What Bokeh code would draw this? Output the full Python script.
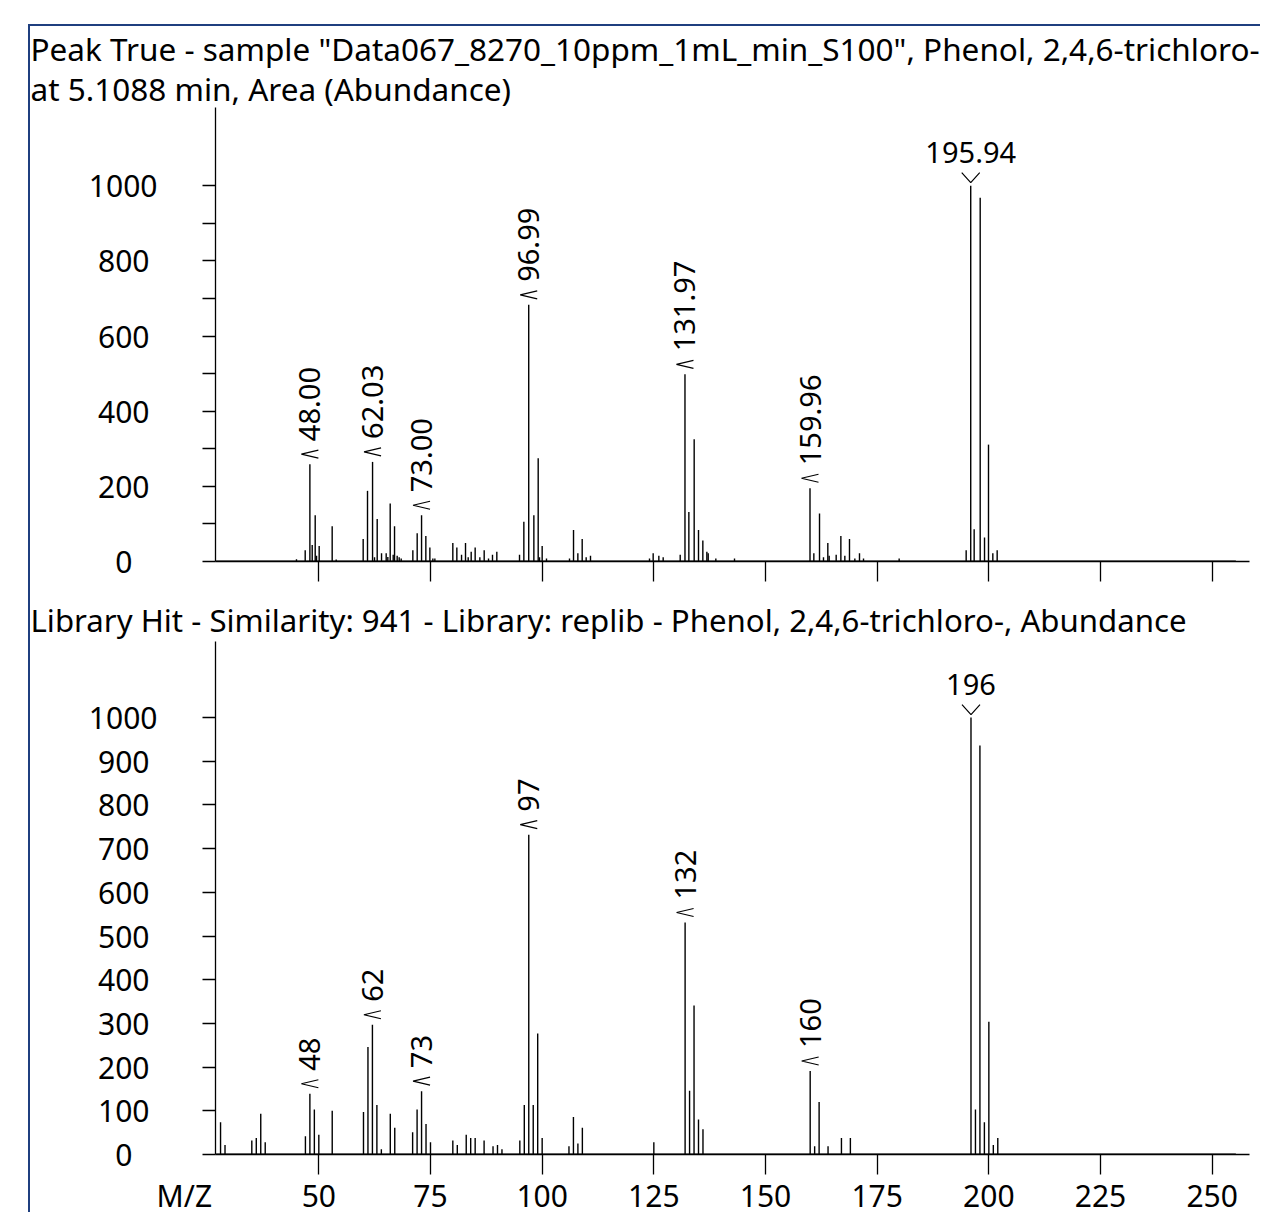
import math
from bokeh.plotting import figure
from bokeh.models import Range1d, FixedTicker
from bokeh.layouts import column
from bokeh.embed import file_html
from bokeh.resources import INLINE
from bokeh.core.properties import value

# ---------------- data ----------------
sample_mz = [45.0, 46.95, 48.00, 48.52, 49.19, 49.49, 50.08, 52.99, 53.89,
             59.93, 60.90, 62.03, 62.47, 63.07, 64.04, 65.08, 65.45, 65.98, 66.65,
             66.95, 67.54, 67.99, 68.44, 71.05, 72.02, 73.00, 73.96, 74.86, 75.53,
             75.98, 80.0, 80.9, 81.95, 82.84, 83.44, 84.11, 85.0, 86.05, 87.02,
             87.99, 88.88, 89.85, 94.93, 95.9, 96.99, 98.14, 99.11, 99.41, 100.0,
             100.97, 106.12, 107.02, 107.99, 108.96, 109.85, 110.82, 124.03, 124.85,
             126.12, 127.09, 130.9, 131.97, 132.84, 134.03, 135.0, 135.97, 136.87,
             137.17, 138.88, 143.06, 159.96, 160.82, 162.09, 162.98, 163.95, 164.25,
             165.82, 166.87, 167.76, 168.8, 170.0, 171.04, 171.94, 179.92, 194.92,
             195.94, 196.71, 198.06, 199.03, 199.92, 200.89, 201.86]
sample_abundance = [6, 30, 259, 44, 123, 15, 41, 94, 5,
                    60, 188, 265, 11, 113, 22, 22, 12, 154, 18,
                    94, 15, 11, 8, 30, 75, 123, 68, 37, 8,
                    8, 49, 37, 18, 49, 11, 26, 37, 11, 30,
                    8, 18, 26, 18, 106, 683, 123, 275, 11, 41,
                    8, 8, 84, 22, 60, 11, 15, 8, 22,
                    15, 11, 18, 498, 132, 325, 84, 56, 26,
                    22, 8, 8, 195, 22, 128, 11, 49, 15,
                    18, 68, 15, 60, 8, 22, 8, 8, 30,
                    1000, 86, 968, 64, 311, 22, 30]
sample_labels = ["48.00", "62.03", "73.00", "96.99", "131.97", "159.96"]
sample_base_label = "195.94"

library_mz = [28, 29, 35, 36, 37, 38, 47, 48, 49, 50, 53, 60, 61, 62, 63, 64, 66, 67,
              71, 72, 73, 74, 75, 80, 81, 83, 84, 85, 87, 89, 90, 91, 95, 96, 97, 98,
              99, 100, 106, 107, 108, 109, 125, 132, 133, 134, 135, 136, 160, 161, 162,
              164, 167, 169, 196, 197, 198, 199, 200, 201, 202]
library_abundance = [74, 22, 32, 38, 93, 28, 42, 139, 103, 45, 100, 97, 246, 297, 113, 12, 93, 61,
                     51, 103, 145, 70, 28, 32, 22, 45, 38, 38, 32, 19, 22, 12, 32, 113, 732, 113,
                     277, 38, 19, 86, 25, 61, 28, 531, 146, 341, 80, 58, 191, 19, 120,
                     19, 38, 38, 1000, 103, 936, 74, 304, 22, 38]
library_labels = ["48", "62", "73", "97", "132", "160"]
library_base_label = "196"

scan_range = [27.0, 255.3]
x_ticks = [50, 75, 100, 125, 150, 175, 200, 225, 250]
sample_y_ticks = [0, 200, 400, 600, 800, 1000]
sample_y_minor_ticks = [100, 300, 500, 700, 900]
library_y_ticks = [0, 100, 200, 300, 400, 500, 600, 700, 800, 900, 1000]
sample_title = ('Peak True - sample "Data067_8270_10ppm_1mL_min_S100", Phenol, 2,4,6-trichloro-\n'
                'at 5.1088 min, Area (Abundance)')
library_title = "Library Hit - Similarity: 941 - Library: replib - Phenol, 2,4,6-trichloro-, Abundance"
x_axis_name = "M/Z"

# ---------------- style ----------------
FONT = "Noto Sans"
X0, X1 = 26.87, 258.35
FW = 1034
INK = "#000000"
FIG_SP = "\u2007"   # digit-wide space
PUNC_SP = "\u2008"  # about half a digit
NBSP = "\u00a0"


def nearest(mz, ab, target):
    i = min(range(len(mz)), key=lambda k: abs(mz[k] - target))
    return ab[i]


def centred_labels(ticks):
    """Pad tick labels on the right so that right-anchored labels look centred."""
    widest = max(len(str(t)) for t in ticks)
    out = {}
    for t in ticks:
        s = str(t)
        half = widest - len(s)
        out[t] = s + FIG_SP * (half // 2) + PUNC_SP * (half % 2)
    return out


def panel(mz, ab, labels, base_label, y_max, frame_h, top, bottom,
          y_ticks, y_minor, show_x_labels):
    p = figure(frame_width=FW, frame_height=frame_h,
               x_range=Range1d(X0, X1), y_range=Range1d(0, y_max),
               output_backend="svg", toolbar_location=None,
               min_border_left=185, min_border_right=11,
               min_border_top=top, min_border_bottom=bottom,
               outline_line_color=None, border_fill_color="white",
               background_fill_color="white")
    p.grid.visible = False

    # spectrum stems
    p.segment(x0=mz, y0=[0] * len(mz), x1=mz, y1=ab, line_color=INK, line_width=1.4)
    p.segment(x0=[scan_range[0]], y0=[0], x1=[scan_range[1]], y1=[0],
              line_color=INK, line_width=2.2)

    ux = (X1 - X0) / FW
    uy = y_max / frame_h

    # peak labels and their markers
    lx = [float(t) for t in labels]
    ly = [nearest(mz, ab, v) for v in lx]
    xs, ys = [], []
    for x, y in zip(lx, ly):
        xs.append([x + 8.5 * ux, x - 8.5 * ux, x + 8.5 * ux])
        ys.append([y + 14 * uy, y + 10 * uy, y + 6 * uy])
    bx = float(base_label)
    by = nearest(mz, ab, bx)
    xs.append([bx - 9 * ux, bx, bx + 9 * ux])
    ys.append([by + 13 * uy, by + 3 * uy, by + 13 * uy])
    p.multi_line(xs=xs, ys=ys, line_color=INK, line_width=1.2)

    p.text(x=lx, y=ly, text=labels, angle=math.pi / 2, text_align="left",
           text_baseline="middle", y_offset=-23, text_color=INK,
           text_font=value(FONT), text_font_size="29px")
    p.text(x=[bx], y=[by], text=[base_label], text_align="center",
           text_baseline="alphabetic", y_offset=-33, text_color=INK,
           text_font=value(FONT), text_font_size="29px")

    # x axis: visible tick marks are drawn as minor ticks so that the
    # axis name can sit in the label row at the left end of the axis
    xa = p.xaxis[0]
    name_pos = X0 + 0.02
    major = ([name_pos] + x_ticks) if show_x_labels else x_ticks
    xa.ticker = FixedTicker(ticks=major, minor_ticks=x_ticks)
    xa.major_tick_out = 20
    xa.major_tick_in = 0
    xa.major_tick_line_color = None
    xa.minor_tick_out = 20
    xa.minor_tick_in = 0
    xa.minor_tick_line_color = INK
    xa.minor_tick_line_width = 1.3
    xa.axis_line_width = 1.3
    xa.axis_line_color = INK
    xa.major_label_text_font = FONT
    xa.major_label_text_font_size = "30px"
    xa.major_label_text_color = INK
    xa.major_label_standoff = 0
    if show_x_labels:
        xa.major_label_overrides = {name_pos: x_axis_name + NBSP * 8}
    else:
        xa.major_label_overrides = {v: "" for v in x_ticks}

    ya = p.yaxis[0]
    ya.ticker = FixedTicker(ticks=y_ticks, minor_ticks=y_minor)
    ya.major_tick_out = 13
    ya.major_tick_in = 0
    ya.minor_tick_out = 13
    ya.minor_tick_in = 0
    ya.axis_line_width = 1.3
    ya.major_tick_line_width = 1.3
    ya.minor_tick_line_width = 1.3
    ya.axis_line_color = INK
    ya.major_tick_line_color = INK
    ya.minor_tick_line_color = INK
    ya.major_label_text_font = FONT
    ya.major_label_text_font_size = "30px"
    ya.major_label_text_color = INK
    ya.major_label_overrides = centred_labels(y_ticks)
    ya.major_label_standoff = 45
    return p


def style_title(t, size, standoff):
    t.text_font = FONT
    t.text_font_size = size
    t.text_font_style = "normal"
    t.text_color = INK
    t.text_line_height = 0.95
    t.align = "left"
    t.offset = -185
    t.standoff = standoff


p1 = panel(sample_mz, sample_abundance, sample_labels, sample_base_label,
           1208, 454, 81, 34, sample_y_ticks, sample_y_minor_ticks, False)
p1.title.text = sample_title
style_title(p1.title, "31.5px", -6)

p2 = panel(library_mz, library_abundance, library_labels, library_base_label,
           1174, 513, 45, 56, library_y_ticks, [], True)
p2.title.text = library_title
style_title(p2.title, "31.2px", 2)

layout = column(p1, p2, spacing=0, margin=(24, 0, 0, 28),
                styles={"border-left": "2px solid #1f3f7f",
                        "border-top": "2px solid #1f3f7f"})

open("out.html", "w").write(file_html(layout, INLINE))
